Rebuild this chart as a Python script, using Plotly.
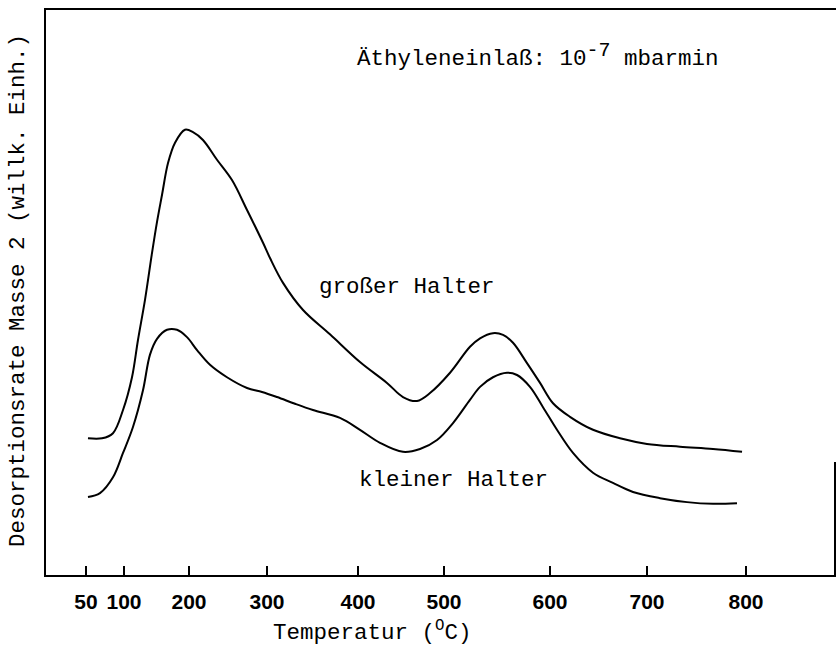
import numpy as np
import plotly.graph_objects as go

# --- axis calibration (non-linear temperature scale of the original) ---
tick_temps = [50, 100, 200, 300, 400, 500, 600, 700, 800]
tick_labels = ["50", "100", "200", "300", "400", "500", "600", "700", "800"]
tick_pos = [40, 78, 143, 221, 312, 398, 504, 601, 700]   # scale units along the axis

# --- data: "großer Halter" (large holder) ---
gross_T = [52.6, 71.1, 85.5, 98.7, 112.3, 121.5, 132.3, 143.1, 150.8, 158.5, 167.7,
           178.5, 193.8, 205.1, 217.9, 235.9, 255.1, 274.4, 294.9, 303.3, 317.6,
           339.6, 369.2, 402.3, 433.7, 452.3, 468.6, 483.7, 505.7, 524.5, 534.0,
           546.2, 555.7, 565.1, 578.3, 590.6, 603.1, 620.6, 644.3, 672.2, 700.0,
           733.3, 766.7, 796.0]
gross_rate = [24.2, 24.2, 25.1, 29.2, 35.0, 41.6, 48.7, 57.0, 62.5, 67.3, 72.9,
              76.5, 78.8, 78.4, 77.0, 73.5, 69.9, 64.6, 58.8, 56.1, 51.7,
              46.9, 42.6, 37.7, 34.0, 31.5, 30.8, 32.2, 35.8, 40.4, 41.9,
              42.8, 42.5, 41.1, 37.5, 34.0, 30.4, 28.0, 25.7, 24.2, 23.2,
              22.7, 22.3, 21.8]

# --- data: "kleiner Halter" (small holder) ---
klein_T = [52.6, 68.4, 85.5, 98.7, 113.8, 129.2, 140.0, 150.8, 166.2, 181.5, 196.9,
           210.3, 226.9, 248.7, 274.4, 293.6, 311.0, 330.8, 350.5, 380.2, 402.3,
           425.6, 452.3, 472.1, 491.9, 508.5, 524.5, 534.0, 546.2, 559.4, 568.9,
           581.1, 593.4, 607.2, 623.7, 644.3, 664.9, 685.6, 713.1, 740.4, 766.7,
           790.9]
klein_rate = [13.8, 14.5, 17.3, 21.6, 26.2, 32.7, 39.0, 41.8, 43.4, 43.4, 42.1,
              39.8, 37.2, 35.0, 33.1, 32.4, 31.5, 30.3, 29.2, 27.8, 25.7,
              23.4, 21.8, 22.3, 23.9, 26.9, 31.0, 33.3, 35.0, 35.8, 35.4,
              33.3, 29.7, 25.7, 21.6, 18.1, 16.3, 14.7, 13.6, 12.9, 12.6,
              12.7]


def to_axis(temps):
    return np.interp(temps, tick_temps, tick_pos)


MONO = "Liberation Mono, Courier New, monospace"
fig = go.Figure()
for T, r in ((gross_T, gross_rate), (klein_T, klein_rate)):
    fig.add_trace(go.Scatter(
        x=to_axis(T), y=r, mode="lines",
        line=dict(color="black", width=2, shape="spline", smoothing=1.0),
        showlegend=False, hoverinfo="skip"))

W, H = 837, 648
L, R, T_, B = 46, 1, 10, 73
pw, ph = W - L - R, H - T_ - B


def px(x):
    return (x - L) / pw


def py(y):
    return (H - B - y) / ph


fig.update_layout(
    width=W, height=H,
    margin=dict(l=L, r=R, t=T_, b=B),
    paper_bgcolor="white", plot_bgcolor="white",
    xaxis=dict(range=[0, pw], tickvals=tick_pos, ticktext=tick_labels,
               ticks="inside", ticklen=9, tickwidth=1.5, tickcolor="black",
               showline=True, linecolor="black", linewidth=2, mirror=True,
               showgrid=False, zeroline=False, ticklabelstandoff=7,
               tickfont=dict(family="Liberation Sans, Arial, sans-serif", size=21,
                             color="black", weight="bold")),
    yaxis=dict(range=[0, 100], showticklabels=False, ticks="",
               showline=True, linecolor="black", linewidth=2,
               showgrid=False, zeroline=False),
)

# partial right-hand frame line
fig.add_shape(type="line", xref="paper", yref="paper",
              x0=px(835), x1=px(835), y0=0, y1=py(462),
              line=dict(color="black", width=2))

ann_font = dict(family=MONO, size=22.5, color="black")
fig.add_annotation(xref="paper", yref="paper", x=px(355), y=py(55),
                   xanchor="left", yanchor="middle", showarrow=False,
                   text="Äthyleneinlaß: 10<sup><span style='font-size:20px'>-7</span></sup> mbarmin",
                   font=ann_font)
fig.add_annotation(xref="paper", yref="paper", x=px(317), y=py(287),
                   xanchor="left", yanchor="middle", showarrow=False,
                   text="großer Halter", font=ann_font)
fig.add_annotation(xref="paper", yref="paper", x=px(357), y=py(480),
                   xanchor="left", yanchor="middle", showarrow=False,
                   text="kleiner Halter", font=ann_font)
fig.add_annotation(xref="paper", yref="paper", x=px(372), y=py(648),
                   xanchor="center", yanchor="bottom", showarrow=False,
                   text="Temperatur (<sup>O</sup>C)", font=ann_font)
fig.add_annotation(xref="paper", yref="paper", x=px(18), y=py(291),
                   xanchor="center", yanchor="middle", showarrow=False,
                   textangle=-90,
                   text="Desorptionsrate Masse 2 (willk. Einh.)", font=ann_font)

fig.write_html("out.html")
